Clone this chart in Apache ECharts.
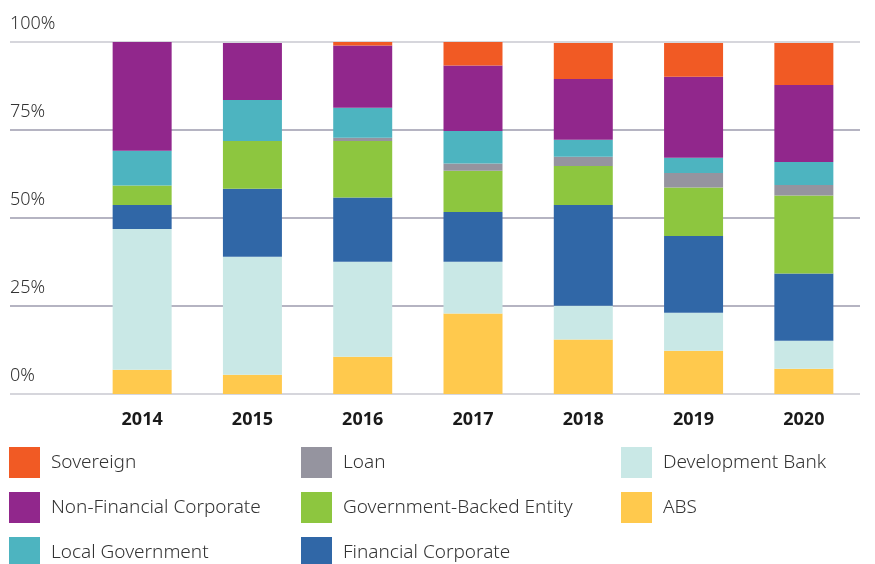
<!DOCTYPE html>
<html>
<head>
<meta charset="utf-8">
<script src="https://cdn.jsdelivr.net/npm/echarts@6/dist/echarts.min.js"></script>
<style>
  html, body { margin: 0; padding: 0; background: #fff; }
  #chart { width: 875px; height: 564px; }
</style>
</head>
<body>
<div id="chart"></div>
<script>
var years = ['2014', '2015', '2016', '2017', '2018', '2019', '2020'];
var yTicks = [0, 25, 50, 75, 100];

// stacked shares in percent, bottom to top
var abs         = [6.9, 5.5, 10.6, 22.9, 15.5, 12.3, 7.2];
var devBank     = [40.0, 33.5, 27.0, 14.7, 9.6, 10.8, 7.9];
var finCorp     = [6.8, 19.3, 18.2, 14.1, 28.6, 21.8, 19.1];
var govBacked   = [5.5, 13.6, 16.1, 11.7, 11.1, 13.8, 22.2];
var loan        = [0, 0, 0.9, 2.1, 2.6, 4.1, 3.0];
var localGov    = [9.9, 11.6, 8.5, 9.2, 4.8, 4.3, 6.5];
var nonFinCorp  = [30.9, 16.2, 17.7, 18.6, 17.3, 23.0, 21.9];
var sovereign   = [0, 0, 1.0, 6.7, 10.2, 9.6, 11.9];

var chart = echarts.init(document.getElementById('chart'));

var font = '"Noto Sans", sans-serif';

function bar(name, data, color) {
  return {
    name: name,
    type: 'bar',
    stack: 'total',
    xAxisIndex: 1,
    yAxisIndex: 1,
    barWidth: 59,
    itemStyle: { color: color },
    emphasis: { disabled: true },
    data: data
  };
}

function legendCol(left, names) {
  return {
    orient: 'vertical',
    left: left,
    top: 447,
    height: 150,
    padding: 0,
    itemWidth: 31,
    itemHeight: 31,
    itemGap: 14,
    icon: 'rect',
    selectedMode: false,
    textStyle: { fontFamily: font, fontSize: 19, fontWeight: 300, color: '#333', padding: [0, 0, 0, 6] },
    data: names
  };
}

chart.setOption({
  backgroundColor: '#fff',
  animation: false,
  grid: [
    { left: 10, right: 15, top: 42, bottom: 170 },
    { left: 87, right: 16, top: 42, bottom: 170 }
  ],
  xAxis: [
    { type: 'value', gridIndex: 0, show: false },
    {
      type: 'category',
      gridIndex: 1,
      data: years,
      axisLine: { show: false },
      axisTick: { show: false },
      axisLabel: {
        margin: 17,
        fontFamily: font,
        fontSize: 18,
        fontWeight: 'bold',
        color: '#1a1a1a'
      }
    }
  ],
  yAxis: [
    {
      type: 'value',
      gridIndex: 0,
      min: yTicks[0],
      max: yTicks[yTicks.length - 1],
      interval: 25,
      axisLine: { show: false },
      axisTick: { show: false },
      axisLabel: {
        inside: true,
        margin: 0,
        verticalAlign: 'bottom',
        padding: [0, 0, 9, 0],
        fontFamily: font,
        fontSize: 18,
        fontWeight: 300,
        color: '#333',
        formatter: '{value}%'
      },
      splitLine: {
        lineStyle: {
          width: 1.5,
          color: ['#c8c8d0', '#9d9bae', '#9d9bae', '#9d9bae', '#c8c8d0']
        }
      }
    },
    { type: 'value', gridIndex: 1, min: 0, max: 100, show: false }
  ],
  legend: [
    legendCol(9, ['Sovereign', 'Non-Financial Corporate', 'Local Government']),
    legendCol(301, ['Loan', 'Government-Backed Entity', 'Financial Corporate']),
    legendCol(621, ['Development Bank', 'ABS'])
  ],
  series: [
    bar('ABS', abs, '#ffc94d'),
    bar('Development Bank', devBank, '#c9e8e6'),
    bar('Financial Corporate', finCorp, '#3067a7'),
    bar('Government-Backed Entity', govBacked, '#8dc63f'),
    bar('Loan', loan, '#95949f'),
    bar('Local Government', localGov, '#4db4c0'),
    bar('Non-Financial Corporate', nonFinCorp, '#91278c'),
    bar('Sovereign', sovereign, '#f15a24')
  ]
});
</script>
</body>
</html>
